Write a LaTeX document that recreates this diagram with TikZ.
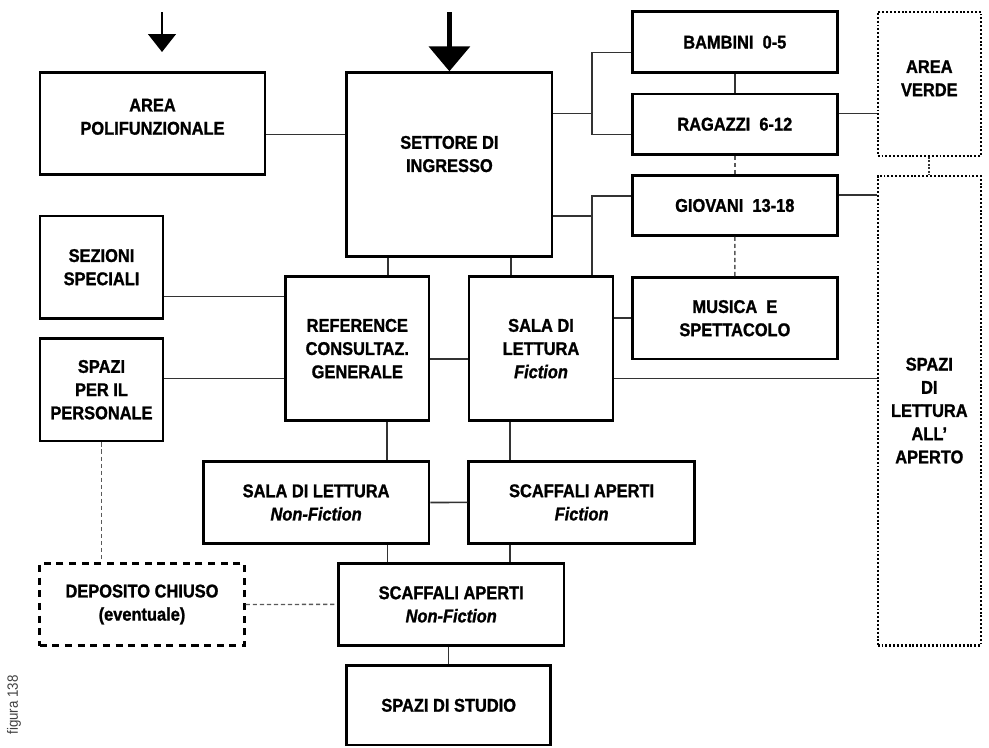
\documentclass[tikz,border=0pt]{standalone}
\usepackage{fontspec}
\setmainfont[FakeStretch=0.89, BoldFeatures={FakeBold=1.2}, BoldItalicFeatures={FakeBold=1.2}]{Liberation Sans}
\usetikzlibrary{arrows.meta}
\tikzset{
	blk/.style 2 args={draw, line width=1.6pt, align=center, inner sep=0pt,
		minimum width=#1cm, minimum height=#2cm,
		font=\bfseries\fontsize{10.5}{13.2}\selectfont},
	dotbox/.style={line width=1.3pt, dash pattern=on 1.1pt off 1.1pt},
	dashbox/.style={dash pattern=on 4pt off 3.2pt},
	link/.style={draw=black!80, line width=0.9pt},
	dlink/.style={draw=black!65, line width=0.8pt, dash pattern=on 2.4pt off 1.6pt},
	olink/.style={draw=black!80, line width=1pt, dash pattern=on 1pt off 1pt}
}

\begin{document}
\begin{tikzpicture}[x=0.02cm, y=-0.02cm]
	\useasboundingbox (0,0) rectangle (989,747);

	\node[rotate=90, text=black!75, font=\fontsize{8.5}{10}\selectfont] (cap) at (14,705) {figura 138};

	\node[blk={4.5}{2.04}, text depth=0.28cm] (area) at (152.5,123.7) {AREA\\POLIFUNZIONALE};
	\node[blk={4.106}{3.68}, text depth=0.43cm] (settore) at (449.4,164.7) {SETTORE DI\\INGRESSO};
	\node[blk={4.1}{1.22}] (bambini) at (734.8,42.2) {BAMBINI~ 0-5};
	\node[blk={4.1}{1.206}] (ragazzi) at (734.8,124.2) {RAGAZZI~ 6-12};
	\node[blk={4.1}{1.194}] (giovani) at (734.8,205.5) {GIOVANI~ 13-18};
	\node[blk={4.1}{1.63}] (musica) at (734.9,318.2) {MUSICA~ E\\SPETTACOLO};
	\node[blk={2.066}{2.88}, dotbox, text depth=0.22cm] (verde) at (929.3,83.7) {AREA\\VERDE};
	\node[blk={2.066}{9.4}, dotbox] (aperto) at (929.3,410.6) {SPAZI\\DI\\LETTURA\\ALL'\\APERTO};
	\node[blk={2.46}{2.046}] (sezioni) at (101.5,267.2) {SEZIONI\\SPECIALI};
	\node[blk={2.46}{2.054}] (personale) at (101.5,389.7) {SPAZI\\PER IL\\PERSONALE};
	\node[blk={2.868}{2.876}] (reference) at (357.3,348.6) {REFERENCE\\CONSULTAZ.\\GENERALE};
	\node[blk={2.88}{2.876}] (salaf) at (541,348.6) {SALA DI\\LETTURA\\\textit{Fiction}};
	\node[blk={4.516}{1.632}] (salanf) at (316.1,502.5) {SALA DI LETTURA\\\textit{Non-Fiction}};
	\node[blk={4.518}{1.636}] (scaff) at (581.6,502.4) {SCAFFALI APERTI\\\textit{Fiction}};
	\node[blk={4.514}{1.644}] (scaffnf) at (451.2,604.4) {SCAFFALI APERTI\\\textit{Non-Fiction}};
	\node[blk={4.08}{1.586}] (studio) at (448.7,705.3) {SPAZI DI STUDIO};
	\node[blk={4.094}{1.648}, dashbox] (deposito) at (142,604.5) {DEPOSITO CHIUSO\\(eventuale)};

	% entrances
	\coordinate (inA) at (162,12);
	\coordinate (inB) at (162,52);
	\coordinate (inC) at (449.4,12);
	\draw[line width=1.4pt, -{Triangle[width=15.7pt,length=10.2pt]}] (inA) -- (inB);
	\draw[line width=3.1pt, -{Triangle[width=23pt,length=14.2pt]}] (inC) -- (settore.north);

	% forks on the right of the entrance
	\coordinate (fkA) at (591.7,113.3);
	\coordinate (fkB) at (591.7,216);
	\draw[link] (settore.east |- fkA) -- (fkA);
	\draw[link] (bambini.west |- 0,52.3) -| (fkA) |- (ragazzi.west |- 0,134.3);
	\draw[link] (settore.east |- fkB) -- (fkB);
	\draw[link] (giovani.west |- 0,196) -| (fkB) -- (fkB |- salaf.north);

	\draw[link] (area.east |- 0,134.3) -- (settore.west |- 0,134.3);
	\draw[link] (settore.south -| 388,0) -- (reference.north -| 388,0);
	\draw[link] (settore.south -| 510.7,0) -- (salaf.north -| 510.7,0);
	\draw[link] (sezioni.east |- 0,296.7) -- (reference.west |- 0,296.7);
	\draw[link] (personale.east |- 0,378.3) -- (reference.west |- 0,378.3);
	\draw[link] (reference.east |- 0,359) -- (salaf.west |- 0,359);
	\draw[link] (salaf.east |- musica.west) -- (musica.west);
	\draw[link] (salaf.east |- 0,378.3) -- (aperto.west |- 0,378.3);
	\draw[link] (ragazzi.east |- 0,113.3) -- (verde.west |- 0,113.3);
	\draw[link] (giovani.east |- 0,195) -- (aperto.west |- 0,195);
	\draw[link] (bambini.south) -- (ragazzi.north);
	\draw[dlink] (ragazzi.south) -- (giovani.north);
	\draw[dlink] (giovani.south) -- (musica.north);
	\draw[olink] (verde.south) -- (aperto.north);

	% lower part
	\draw[link] (reference.south -| 387,0) -- (salanf.north -| 387,0);
	\draw[link] (salaf.south -| 510,0) -- (scaff.north -| 510,0);
	\draw[link] (salanf.south -| 387.7,0) -- (scaffnf.north -| 387.7,0);
	\draw[link] (scaff.south -| 510,0) -- (scaffnf.north -| 510,0);
	\draw[link] (salanf.east) -- (scaff.west);
	\draw[link] (scaffnf.south -| studio.north) -- (studio.north);
	\draw[dlink] (personale.south) -- (deposito.north -| personale.south);
	\draw[dlink] (deposito.east) -- (scaffnf.west);
\end{tikzpicture}
\end{document}
